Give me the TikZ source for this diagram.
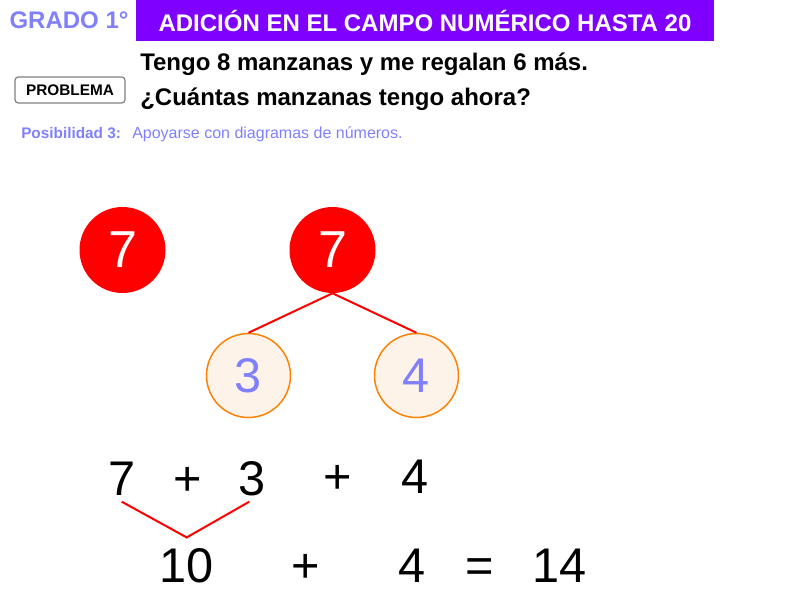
\documentclass[tikz,border=0pt]{standalone}
\usepackage{fontspec}
\setmainfont{Liberation Sans}
\usepackage{tikz}

\definecolor{titlepurple}{RGB}{128,0,255}
\definecolor{softblue}{RGB}{128,128,255}
\definecolor{ringorange}{RGB}{255,128,0}
\definecolor{paleorange}{RGB}{254,243,232}

\begin{document}
\begin{tikzpicture}[x=0.75pt,y=0.75pt,yscale=-1,xscale=1,
  redball/.style={circle,fill=red,minimum size=64.5pt,inner sep=0pt,text=white,font=\fontsize{39}{39}\selectfont},
  partball/.style={circle,draw=ringorange,line width=1.1pt,fill=paleorange,minimum size=63pt,inner sep=0pt,text=softblue,font=\fontsize{36.5}{36.5}\selectfont},
  bignum/.style={anchor=base,inner sep=0.75pt,font=\fontsize{36.5}{36.5}\selectfont},
  redline/.style={draw=red,line width=1.5pt}]
\useasboundingbox (0,0) rectangle (800,600);

% Text Node
\draw (69,20) node [inner sep=0pt,text=softblue,font=\fontsize{18}{18}\selectfont\bfseries] (grade) {GRADO 1°};
% Text Node
\draw (425,20.5) node [fill=titlepurple,minimum width=433.5pt,minimum height=30.75pt,inner sep=0pt,text=white,font=\fontsize{18}{18}\selectfont\bfseries] (title) {ADICIÓN EN EL CAMPO NUMÉRICO HASTA 20};
% Text Node
\draw (70,90) node [draw=gray,line width=0.9pt,rounded corners=2.5pt,minimum width=82.5pt,minimum height=19.5pt,inner sep=0pt,font=\fontsize{11.5}{11.5}\selectfont\bfseries] (problem) {PROBLEMA};
% Text Node
\draw (140,70) node [anchor=base west,inner sep=0pt,font=\fontsize{18}{18}\selectfont\bfseries] (lineA) {Tengo 8 manzanas y me regalan 6 más.};
% Text Node
\draw (140,105) node [anchor=base west,inner sep=0pt,font=\fontsize{18}{18}\selectfont\bfseries] (lineB) {¿Cuántas manzanas tengo ahora?};
% Text Node
\draw (21,138) node [anchor=base west,inner sep=0pt,text=softblue,font=\fontsize{11.5}{11.5}\selectfont\bfseries] (hintA) {Posibilidad 3:};
% Text Node
\draw (132,138) node [anchor=base west,inner sep=0pt,text=softblue,font=\fontsize{12}{12}\selectfont] (hintB) {Apoyarse con diagramas de números.};

%Shape: Circle
\draw (122.5,250) node [redball] (lone) {7};
%Shape: Circle
\draw (332.5,250) node [redball] (whole) {7};
%Shape: Circle
\draw (248.5,375.5) node [partball] (partA) {3};
%Shape: Circle
\draw (416.5,375.5) node [partball] (partB) {4};

%Straight Lines
\draw [redline] (whole.south) -- (partA.north) ;
%Straight Lines
\draw [redline] (whole.south) -- (partB.north) ;

% Text Node
\draw (121.7,495) node [bignum] (seven) {7};
\draw (187.3,495) node [bignum] (plusA) {+};
\draw (251.7,495) node [bignum] (three) {3};
\draw (337.3,493) node [bignum] (plusB) {+};
\draw (415,493) node [bignum] (four) {4};
% Text Node
\draw (186.7,582) node [bignum] (ten) {10};
\draw (306,582) node [bignum] (plusC) {+};
\draw (411.7,582) node [bignum] (fourB) {4};
\draw (480,582) node [bignum] (equals) {=};
\draw (560,582) node [bignum] (fourteen) {14};

%Straight Lines
\draw [redline] ([yshift=5pt]seven.base) -- ([yshift=-7pt]ten.north) -- ([xshift=-1.8pt,yshift=5pt]three.base) ;

\end{tikzpicture}
\end{document}
